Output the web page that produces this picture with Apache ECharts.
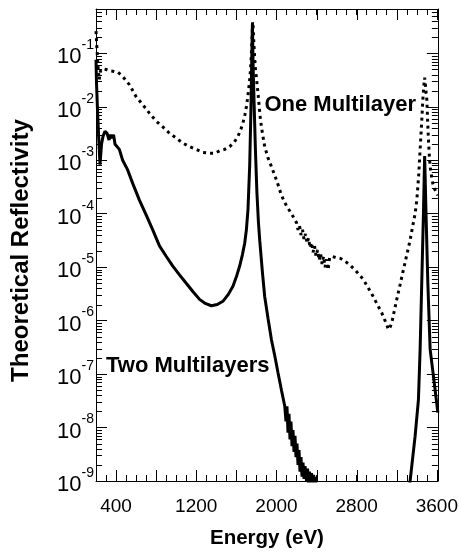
<!DOCTYPE html>
<html>
<head>
<meta charset="utf-8">
<script src="https://cdn.jsdelivr.net/npm/echarts/dist/echarts.min.js"></script>
<style>
html,body{margin:0;padding:0;background:#fff;}
#chart{width:461px;height:554px;}
</style>
</head>
<body>
<div id="chart"></div>
<script>
// ---- data ----
const seriesNames = ['One Multilayer', 'Two Multilayers'];

const energyOne = [200, 212, 222, 232, 245, 265, 300, 340, 380, 420, 466, 533, 600, 666, 733, 800, 866, 933, 1000, 1066, 1133, 1200, 1266, 1333, 1383, 1433, 1483, 1533, 1580, 1616, 1645, 1666, 1685, 1700, 1715, 1726, 1735, 1743, 1750, 1756, 1762, 1767, 1773, 1780, 1790, 1800, 1816, 1828, 1840, 1860, 1883, 1916, 1950, 1983, 2016, 2050, 2100, 2150, 2200,
  2215, 2230, 2245, 2260, 2275, 2290, 2305, 2320, 2335, 2350, 2365, 2380, 2395, 2410, 2425, 2440, 2455, 2470, 2485, 2500, 2515, 2530,
  2550, 2600, 2640, 2683, 2733, 2783, 2833, 2866, 2916, 2966, 3000, 3050, 3083, 3100, 3116, 3133, 3150, 3175, 3200, 3233, 3266, 3300, 3333, 3360, 3383, 3400, 3418, 3433, 3448, 3460, 3470, 3478, 3486, 3493, 3500, 3508, 3516, 3525, 3533, 3550, 3566, 3590, 3610];
const reflOne = [2.6e-1, 1.0e-1, 5.0e-2, 3.2e-2, 4.7e-2, 5.2e-2, 5.0e-2, 4.7e-2, 4.6e-2, 4.4e-2, 3.7e-2, 2.6e-2, 1.55e-2, 1.1e-2, 7.6e-3, 5.4e-3, 4.2e-3, 3.2e-3, 2.6e-3, 2.1e-3, 1.8e-3, 1.6e-3, 1.4e-3, 1.35e-3, 1.35e-3, 1.5e-3, 1.6e-3, 1.8e-3, 2.2e-3, 2.8e-3, 3.8e-3, 5.0e-3, 7.1e-3, 1.0e-2, 1.6e-2, 2.4e-2, 3.5e-2, 5.6e-2, 1.0e-1, 1.8e-1, 3.9e-1, 3.2e-1, 1.8e-1, 1.0e-1, 5.2e-2, 3.5e-2, 1.8e-2, 1.0e-2, 5.8e-3, 3.2e-3, 1.8e-3, 1.1e-3, 7.6e-4, 5.2e-4, 3.5e-4, 2.2e-4, 1.4e-4, 1.0e-4, 6.8e-5,
  5.0e-5, 6.0e-5, 4.0e-5, 5.0e-5, 3.3e-5, 4.2e-5, 2.8e-5, 3.5e-5, 2.3e-5, 2.9e-5, 1.9e-5, 2.5e-5, 1.6e-5, 2.1e-5, 1.35e-5, 1.8e-5, 1.15e-5, 1.6e-5, 1.0e-5, 1.4e-5, 8.9e-6, 1.5e-5,
  1.6e-5, 1.5e-5, 1.45e-5, 1.3e-5, 1.1e-5, 8.9e-6, 7.0e-6, 5.9e-6, 4.1e-6, 2.8e-6, 2.1e-6, 1.4e-6, 1.0e-6, 8.5e-7, 6.8e-7, 7.5e-7, 9.1e-7, 1.5e-6, 2.5e-6, 4.7e-6, 8.9e-6, 1.7e-5, 3.2e-5, 6.0e-5, 1.0e-4, 1.8e-4, 5.0e-4, 1.6e-3, 5.0e-3, 1.35e-2, 2.5e-2, 3.5e-2, 2.6e-2, 1.8e-2, 1.35e-2, 5.5e-3, 2.4e-3, 1.2e-3, 7.6e-4, 4.6e-4, 3.2e-4, 2.6e-4, 2.2e-4];

const energyTwo = [200, 205, 215, 228, 240, 255, 270, 290, 310, 330, 345, 360, 375, 390, 405, 433, 466, 516, 566, 633, 700, 766, 833, 900, 966, 1033, 1100, 1166, 1233, 1290, 1350, 1410, 1466, 1520, 1566, 1600, 1633, 1660, 1683, 1700, 1716, 1733, 1745, 1752, 1760, 1768, 1778, 1790, 1805, 1820, 1833, 1860, 1883, 1916, 1950, 1983, 2016, 2050, 2083,
  2095, 2105, 2115, 2125, 2135, 2145, 2155, 2165, 2175, 2185, 2195, 2205, 2215, 2225, 2235, 2245, 2255, 2265, 2275, 2285, 2300, 2310, 2320, 2330, 2340, 2350, 2360, 2370, 2380, 2390, 2400, 2410,
  3300, 3333, 3383, 3416, 3433, 3450, 3466, 3478, 3492, 3510, 3533, 3566, 3610];
const reflTwo = [7.6e-2, 2.8e-2, 8.7e-3, 2.4e-3, 8.3e-4, 2.0e-3, 2.8e-3, 3.5e-3, 3.2e-3, 2.4e-3, 3.0e-3, 2.6e-3, 3.0e-3, 2.0e-3, 2.1e-3, 1.6e-3, 1.0e-3, 6.6e-4, 3.7e-4, 1.8e-4, 9.5e-5, 5.0e-5, 2.5e-5, 1.6e-5, 1.05e-5, 7.2e-6, 5.0e-6, 3.5e-6, 2.5e-6, 2.1e-6, 1.9e-6, 2.0e-6, 2.3e-6, 3.1e-6, 4.4e-6, 6.6e-6, 1.05e-5, 1.7e-5, 2.8e-5, 5.0e-5, 1.2e-4, 8.0e-4, 8.0e-3, 5.0e-2, 3.5e-1, 5.0e-2, 1.0e-2, 1.6e-3, 2.5e-4, 7.0e-5, 3.2e-5, 8.0e-6, 2.8e-6, 1.1e-6, 4.4e-7, 2.2e-7, 1.05e-7, 5.0e-8, 2.5e-8,
  1.3e-8, 2.5e-8, 8e-9, 1.8e-8, 6e-9, 1.3e-8, 4.5e-9, 9e-9, 3.5e-9, 7e-9, 2.8e-9, 5e-9, 2.0e-9, 3.8e-9, 1.5e-9, 2.8e-9, 1.2e-9, 2.2e-9, 1.1e-9, 1.9e-9, 1.0e-9, 1.7e-9, 9e-10, 1.5e-9, 9e-10, 1.4e-9, 8e-10, 1.3e-9, 8e-10, 1.2e-9, 7e-10, 3e-10,
  3e-10, 1.0e-9, 6.9e-9, 3.3e-8, 2.9e-7, 5.9e-6, 1.0e-4, 1.2e-3, 1.0e-4, 5.0e-6, 2.9e-7, 9.1e-8, 1.9e-8];

// axis texts and ticks
const xTickLabels = [400, 1200, 2000, 2800, 3600];
const xMajorTicks = [400, 800, 1200, 1600, 2000, 2400, 2800, 3200, 3600];
const xTitle = 'Energy (eV)';
const yTitle = 'Theoretical Reflectivity';
// label anchors (data coordinates)
const labelOneAt = [1880, 1.1e-2];
const labelTwoAt = [300, 1.4e-7];

const X_MIN = 200, X_MAX = 3610, Y_MIN = 1e-9, Y_MAX = 0.676;

// minor log ticks 2..9 x 10^n
const yMinorTicks = [];
for (let e = -9; e <= -1; e++) {
  for (let k = 2; k <= 9; k++) {
    const v = k * Math.pow(10, e);
    if (v < Y_MAX) yMinorTicks.push(v);
  }
}

const tickItems = [];
yMinorTicks.forEach(v => tickItems.push([X_MIN, v, 0]));
xMajorTicks.forEach(x => tickItems.push([x, Y_MIN, 1]));

const FONT = 'Liberation Sans, Arial, Helvetica, sans-serif';

const chart = echarts.init(document.getElementById('chart'), null, {renderer: 'canvas'});

function yLabel(v) {
  const l = Math.log10(v);
  const e = Math.round(l);
  if (Math.abs(l - e) > 1e-6) return '';
  return '{b|10}{s|' + e + '}';
}

const axisLineStyle = {show: true, lineStyle: {color: '#000', width: 1}};

const option = {
  animation: false,
  backgroundColor: '#fff',
  grid: {left: 96, right: 23, top: 9, bottom: 72, containLabel: false},
  xAxis: [
    {
      type: 'value', min: X_MIN, max: X_MAX, interval: 100, position: 'bottom',
      axisLine: axisLineStyle,
      axisTick: {show: true, inside: true, length: 6, lineStyle: {color: '#000', width: 1}},
      axisLabel: {
        color: '#000', fontSize: 19, fontFamily: FONT, margin: 16,
        formatter: v => xTickLabels.indexOf(v) >= 0 ? String(v) : ''
      },
      splitLine: {show: false},
      name: xTitle, nameLocation: 'middle', nameGap: 47,
      nameTextStyle: {color: '#000', fontSize: 20.5, fontWeight: 'bold', fontFamily: FONT}
    },
    {
      type: 'value', min: X_MIN, max: X_MAX, interval: 100, position: 'top',
      axisLine: axisLineStyle,
      axisTick: {show: true, inside: true, length: 6, lineStyle: {color: '#000', width: 1}},
      axisLabel: {show: false},
      splitLine: {show: false}
    }
  ],
  yAxis: [
    {
      type: 'log', logBase: 10, min: Y_MIN, max: Y_MAX, interval: 1, position: 'left',
      axisLine: axisLineStyle,
      axisTick: {show: true, inside: true, length: 11, lineStyle: {color: '#000', width: 1}},
      axisLabel: {
        margin: 2, formatter: yLabel,
        rich: {
          b: {fontSize: 22, fontFamily: FONT, color: '#000', lineHeight: 30, verticalAlign: 'bottom'},
          s: {fontSize: 14, fontFamily: FONT, color: '#000', lineHeight: 30, verticalAlign: 'top'}
        }
      },
      splitLine: {show: false},
      name: yTitle, nameLocation: 'middle', nameGap: 63, nameRotate: 90,
      nameTextStyle: {color: '#000', fontSize: 24, fontWeight: 'bold', fontFamily: FONT, padding: [0, 11, 0, 0]}
    },
    {
      type: 'log', logBase: 10, min: Y_MIN, max: Y_MAX, interval: 1, position: 'right',
      axisLine: axisLineStyle,
      axisTick: {show: true, inside: true, length: 11, lineStyle: {color: '#000', width: 1}},
      axisLabel: {show: false},
      splitLine: {show: false}
    }
  ],
  series: [
    {
      name: seriesNames[0], type: 'line', xAxisIndex: 0, yAxisIndex: 0,
      data: energyOne.map((e, i) => [e, reflOne[i]]),
      showSymbol: false, symbol: 'none', clip: true,
      lineStyle: {color: '#000', width: 3, type: [3, 4], cap: 'butt'},
      z: 3,
      markPoint: {
        symbol: 'circle', symbolSize: 0, silent: true,
        data: [{coord: labelOneAt, value: 0}],
        label: {show: true, position: 'right', distance: 0, formatter: seriesNames[0],
          color: '#000', fontSize: 22, fontWeight: 'bold', fontFamily: FONT}
      }
    },
    {
      name: seriesNames[1], type: 'line', xAxisIndex: 0, yAxisIndex: 0,
      data: energyTwo.map((e, i) => [e, reflTwo[i]]),
      showSymbol: false, symbol: 'none', clip: true,
      lineStyle: {color: '#000', width: 3, type: 'solid'},
      z: 4,
      markPoint: {
        symbol: 'circle', symbolSize: 0, silent: true,
        data: [{coord: labelTwoAt, value: 0}],
        label: {show: true, position: 'right', distance: 0, formatter: seriesNames[1],
          color: '#000', fontSize: 22, fontWeight: 'bold', fontFamily: FONT}
      }
    },
    {
      type: 'custom', xAxisIndex: 0, yAxisIndex: 0, silent: true, clip: false, z: 10,
      data: tickItems, encode: {x: 0, y: 1},
      renderItem: function (params, api) {
        const cs = params.coordSys;
        const kind = api.value(2);
        const p = api.coord([api.value(0), api.value(1)]);
        const st = {stroke: '#000', lineWidth: 1};
        if (kind === 0) {
          const y = Math.round(p[1]) + 0.5;
          return {type: 'group', children: [
            {type: 'line', shape: {x1: cs.x, y1: y, x2: cs.x + 6, y2: y}, style: st},
            {type: 'line', shape: {x1: cs.x + cs.width, y1: y, x2: cs.x + cs.width - 6, y2: y}, style: st}
          ]};
        }
        const x = Math.round(p[0]) + 0.5;
        return {type: 'group', children: [
          {type: 'line', shape: {x1: x, y1: cs.y + cs.height, x2: x, y2: cs.y + cs.height - 11}, style: st},
          {type: 'line', shape: {x1: x, y1: cs.y, x2: x, y2: cs.y + 11}, style: st}
        ]};
      }
    }
  ]
};
chart.setOption(option);
</script>
</body>
</html>
